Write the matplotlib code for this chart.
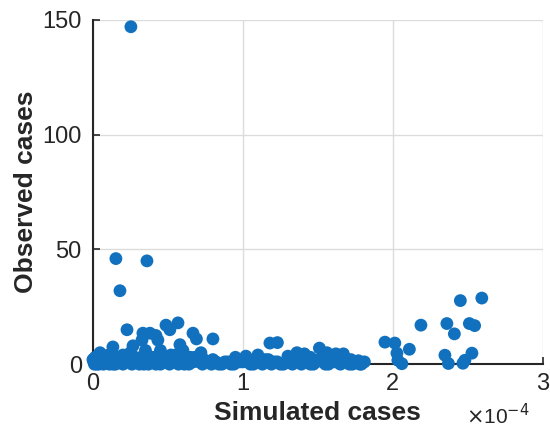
import numpy as np
import matplotlib.pyplot as plt

plt.rcParams['font.family'] = ['Liberation Sans', 'DejaVu Sans']

# simulated cases in units of 1e-4, observed cases
peak_sim = [0.253, 0.153, 0.36, 0.18, 0.227]
peak_obs = [147, 46, 45, 32, 15]

mid_sim = [0.333, 0.487, 0.567, 0.38, 0.667, 0.69, 0.80, 0.42, 0.513, 0.327,
           0.433, 0.267, 0.58, 0.133, 0.047, 0.60, 0.45, 0.35, 0.25, 0.72,
           0.20, 0.09, 0.55, 0.65, 1.18, 1.23, 1.36, 1.41, 1.51, 1.56,
           1.62, 1.67, 1.10, 1.02, 0.95, 1.30, 1.45, 1.72, 1.77, 1.81]
mid_obs = [13.5, 17, 18, 13.5, 13.5, 11, 11, 12.5, 15, 10.5,
           10.5, 8, 8.5, 7.5, 5, 6, 6, 6, 5, 5,
           4, 3.5, 4, 3, 9.2, 9.4, 5, 4.5, 7, 5,
           4.5, 4.5, 4, 3.5, 3, 3.5, 3, 2, 1.5, 1]

right_sim = [1.947, 2.013, 2.027, 2.033, 2.06, 2.11, 2.187, 2.36, 2.41, 2.45,
             2.51, 2.545, 2.593, 2.347, 2.37, 2.48, 2.467, 2.527]
right_obs = [9.6, 9.2, 4.8, 1.7, 0.2, 6.5, 17, 17.7, 13.2, 27.7,
             17.7, 16.8, 28.8, 3.9, 0.3, 1.7, 0.4, 4.8]

low_sim = [0.00, 0.01, 0.02, 0.03, 0.04, 0.05, 0.06, 0.07, 0.08, 0.10,
           0.11, 0.12, 0.14, 0.15, 0.17, 0.19, 0.20, 0.22, 0.24, 0.26,
           0.28, 0.30, 0.31, 0.33, 0.35, 0.37, 0.39, 0.41, 0.43, 0.45,
           0.47, 0.49, 0.51, 0.53, 0.55, 0.57, 0.59, 0.62, 0.64, 0.67,
           0.70, 0.73, 0.76, 0.79, 0.82, 0.86, 0.90, 0.94, 0.98, 1.01,
           1.05, 1.09, 1.13, 1.17, 1.21, 1.25, 1.29, 1.33, 1.37, 1.41,
           1.45, 1.49, 1.53, 1.57, 1.61, 1.65, 1.69, 1.73, 1.76, 1.79]
low_obs = [2, 0, 1, 3, 0, 2, 1, 0, 3, 1,
           0, 2, 1, 0, 2, 3, 0, 1, 2, 0,
           3, 1, 0, 2, 1, 0, 3, 1, 2, 0,
           1, 3, 0, 2, 1, 0, 2, 1, 0, 1,
           2, 0, 1, 0, 1, 0, 1, 0, 1, 2,
           0, 1, 0, 2, 1, 0, 1, 0, 2, 1,
           0, 1, 2, 0, 1, 0, 1, 0, 1, 0]

# second pass of near-zero observations
base_sim = [0.005, 0.015, 0.025, 0.035, 0.045, 0.055, 0.065, 0.075, 0.09, 0.105,
            0.125, 0.135, 0.16, 0.18, 0.21, 0.23, 0.25, 0.27, 0.29, 0.32,
            0.34, 0.36, 0.38, 0.40, 0.42, 0.44, 0.46, 0.48, 0.50, 0.52,
            0.54, 0.56, 0.58, 0.60, 0.61, 0.63, 0.66, 0.68, 0.71, 0.74,
            0.77, 0.80, 0.84, 0.88, 0.92, 0.96, 1.00, 1.03, 1.07, 1.11,
            1.15, 1.19, 1.23, 1.27, 1.31, 1.35, 1.39, 1.43, 1.47, 1.51,
            1.55, 1.59, 1.63, 1.67, 1.71, 1.75, 1.78]
base_obs = [1, 3, 0, 2, 4, 1, 3, 2, 1, 4,
            3, 0, 3, 1, 2, 4, 3, 1, 2, 3,
            0, 4, 2, 3, 0, 4, 2, 3, 1, 4,
            2, 3, 1, 3, 0, 2, 1, 3, 1, 2,
            1, 2, 0, 1, 0, 2, 1, 2, 0, 1,
            2, 0, 1, 0, 1, 2, 0, 1, 0, 2,
            0, 2, 1, 2, 0, 1, 0]

sim = np.array(peak_sim + mid_sim + right_sim + low_sim + base_sim)
obs = np.array(peak_obs + mid_obs + right_obs + low_obs + base_obs)

fig = plt.figure(figsize=(5.5, 4.32), dpi=100)
ax = fig.add_axes([0.169, 0.157, 0.818, 0.797])

ax.scatter(sim, obs, s=85, color='#1171BE', edgecolors='none',
           clip_on=False, zorder=3)

ax.set_xlim(0, 3)
ax.set_ylim(0, 150)
ax.set_xticks([0, 1, 2, 3])
ax.set_yticks([0, 50, 100, 150])
ax.grid(True, color='#dcdcdc', linewidth=1.0)
ax.set_axisbelow(True)

for side in ['top', 'right']:
    ax.spines[side].set_visible(False)
for side in ['left', 'bottom']:
    ax.spines[side].set_color('#262626')
    ax.spines[side].set_linewidth(1.5)

ax.tick_params(direction='in', length=5, width=1.2, colors='#262626',
               labelsize=17, pad=6)
ax.tick_params(axis='y', pad=8)

ax.set_xlabel('Simulated cases', fontsize=19, fontweight='bold',
              color='#262626', labelpad=5)
ax.set_ylabel('Observed cases', fontsize=19, fontweight='bold',
              color='#262626', labelpad=3)
fig.text(0.962, 0.037, r'$\times$10$^{-4}$', fontsize=15, color='#262626',
         ha='right', va='center')

fig.savefig('out.png', dpi=100)
